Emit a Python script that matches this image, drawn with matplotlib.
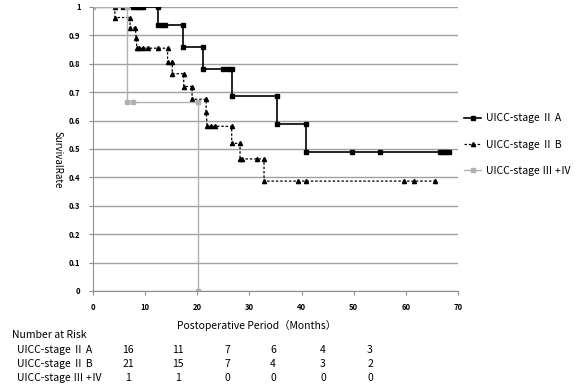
import matplotlib
matplotlib.use("Agg")
import matplotlib.pyplot as plt

plt.rcParams['font.family'] = ['Noto Sans CJK JP', 'DejaVu Sans']

# Kaplan-Meier curves, points (month, survival)
iia_t = [5.8, 7.7, 8.2, 8.7, 9.2, 9.6, 12.5, 12.5, 13.2, 13.8, 17.3, 17.3, 21.0, 21.0,
         25.0, 25.8, 26.6, 26.6, 35.3, 35.3, 40.9, 40.9, 49.6, 55.1, 66.6, 67.2, 67.7, 68.3]
iia_s = [1, 1, 1, 1, 1, 1, 1, 0.9375, 0.9375, 0.9375, 0.9375, 0.86, 0.86, 0.78,
         0.78, 0.78, 0.78, 0.686, 0.686, 0.588, 0.588, 0.49, 0.49, 0.49, 0.49, 0.49, 0.49, 0.49]

iib_t = [4.2, 4.2, 7.1, 7.1, 8.1, 8.3, 8.4, 8.9, 9.5, 10.6, 12.5, 14.3, 14.3, 15.2, 15.2,
         17.4, 17.4, 19.0, 19.0, 21.7, 21.7, 21.9, 22.6, 23.4, 26.6, 26.6, 28.2, 28.2, 28.6,
         31.4, 32.8, 32.8, 39.4, 40.9, 59.6, 61.6, 65.6]
iib_s = [1, 0.963, 0.963, 0.926, 0.926, 0.89, 0.855, 0.855, 0.855, 0.855, 0.855, 0.855, 0.807, 0.807, 0.765,
         0.765, 0.72, 0.72, 0.675, 0.675, 0.632, 0.58, 0.58, 0.58, 0.58, 0.52, 0.52, 0.465, 0.465,
         0.465, 0.465, 0.387, 0.387, 0.387, 0.387, 0.387, 0.387]

iii_t = [0, 6.5, 6.5, 7.7, 20.2, 20.2]
iii_s = [1, 1, 0.667, 0.667, 0.667, 0]

labels = ['UICC-stage Ⅱ A', 'UICC-stage Ⅱ B', 'UICC-stage Ⅲ +Ⅳ']

# number at risk table
risk_a = [16, 11, 7, 6, 4, 3]
risk_b = [21, 15, 7, 4, 3, 2]
risk_c = [1, 1, 0, 0, 0, 0]
risk_x = [128, 178, 227, 273, 323, 370]  # pixel columns in the picture

W, H = 576, 387
fig = plt.figure(figsize=(W / 100, H / 100), dpi=100)
ax = fig.add_axes([93 / W, 1 - 291 / H, (458 - 93) / W, (291 - 7) / H])

ax.plot(iia_t, iia_s, color='black', lw=1.2, marker='s', ms=2.6, label=labels[0])
ax.plot(iib_t, iib_s, color='black', lw=0.9, ls=(0, (2, 1.5)), marker='^', ms=3, label=labels[1])
ax.plot(iii_t, iii_s, color='#b0b0b0', lw=1.0, marker='s', ms=2.2, label=labels[2])

ax.set_xlim(0, 70)
ax.set_ylim(0, 1)
ax.set_xticks(range(0, 71, 10))
ax.set_yticks([i / 10 for i in range(11)])
ax.set_yticklabels(['0', '0.1', '0.2', '0.3', '0.4', '0.5', '0.6', '0.7', '0.8', '0.9', '1'])
for lab in ax.get_xticklabels() + ax.get_yticklabels():
    lab.set_fontweight('bold')
ax.tick_params(labelsize=5.5, length=3, color='#909090', pad=6)
ax.grid(axis='y', color='#a0a0a0', lw=1)
ax.set_axisbelow(True)
for side in ['top', 'right']:
    ax.spines[side].set_visible(False)
for side in ['left', 'bottom']:
    ax.spines[side].set_color('#909090')

fig.text(58 / W, 1 - 160 / H, 'SurvivalRate', rotation=270, fontsize=7,
         ha='center', va='center')
fig.legend(loc='upper left', bbox_to_anchor=(455 / W, 1 - 104 / H), frameon=False,
           fontsize=7.5, handlelength=1.6, labelspacing=1.55, handletextpad=0.5)

fig.text(257 / W, 1 - 326 / H, 'Postoperative Period（Months）', fontsize=7.5,
         ha='center', va='center')
fig.text(12 / W, 1 - 335 / H, 'Number at Risk', fontsize=7.5, va='center')
for row, (lab, vals) in enumerate(zip(labels, [risk_a, risk_b, risk_c])):
    y = 1 - (350 + 14.2 * row) / H
    fig.text(17 / W, y, lab, fontsize=7.5, va='center')
    for xp, v in zip(risk_x, vals):
        fig.text(xp / W, y, str(v), fontsize=7.5, ha='center', va='center')

fig.savefig('out.png', dpi=100)
